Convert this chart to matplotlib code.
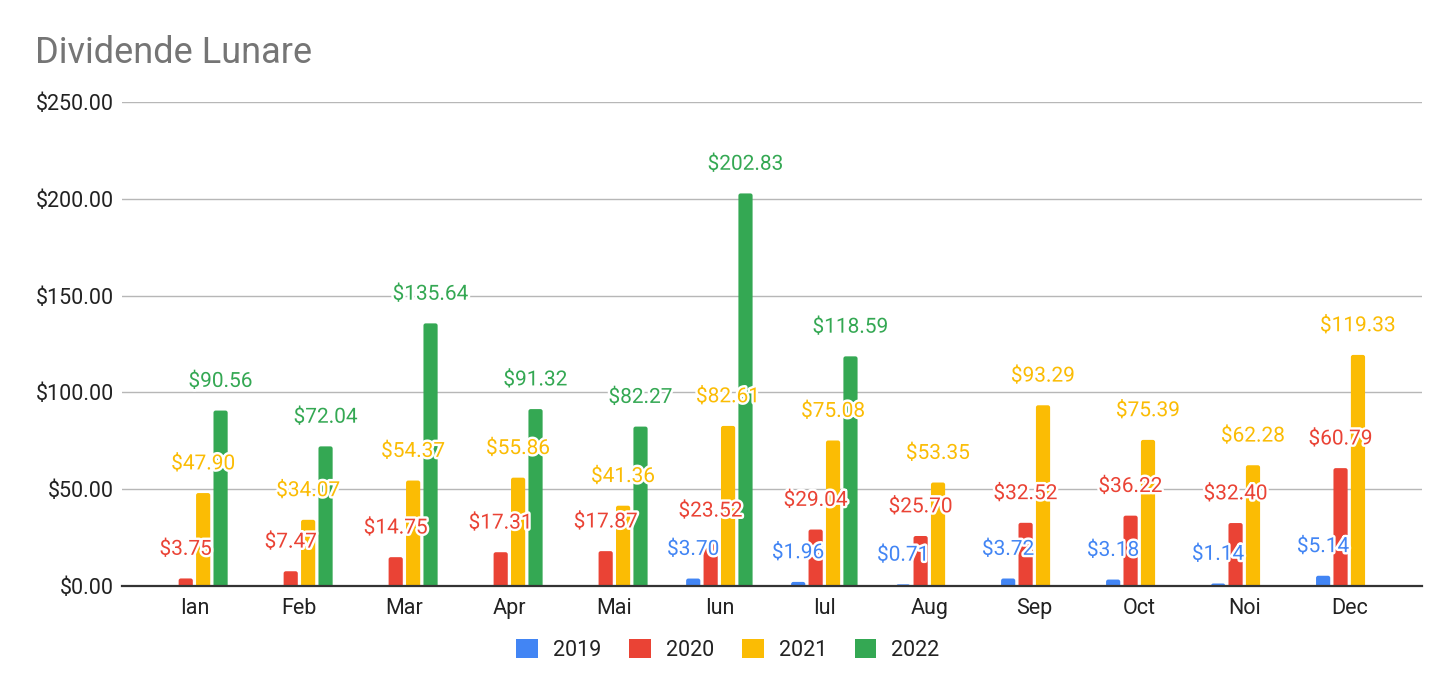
import matplotlib
matplotlib.use('Agg')
import matplotlib.pyplot as plt
import matplotlib.patheffects as pe
from matplotlib.patches import FancyBboxPatch, Patch
import numpy as np

months = ['Ian', 'Feb', 'Mar', 'Apr', 'Mai', 'Iun', 'Iul', 'Aug', 'Sep', 'Oct', 'Noi', 'Dec']
years = ['2019', '2020', '2021', '2022']
v2019 = [None, None, None, None, None, 3.70, 1.96, 0.71, 3.72, 3.18, 1.14, 5.14]
v2020 = [3.75, 7.47, 14.75, 17.31, 17.87, 23.52, 29.04, 25.70, 32.52, 36.22, 32.40, 60.79]
v2021 = [47.90, 34.07, 54.37, 55.86, 41.36, 82.61, 75.08, 53.35, 93.29, 75.39, 62.28, 119.33]
v2022 = [90.56, 72.04, 135.64, 91.32, 82.27, 202.83, 118.59, None, None, None, None, None]
series = [v2019, v2020, v2021, v2022]
colors = ['#4285F4', '#EA4335', '#FBBC04', '#34A853']
yticks = [0, 50, 100, 150, 200, 250]

plt.rcParams['font.family'] = ['Roboto', 'DejaVu Sans']

W, H = 1456, 696
fig = plt.figure(figsize=(W / 100, H / 100), dpi=100)
fig.patch.set_facecolor('white')
ax = fig.add_axes([122 / W, 110.3 / H, (1421.7 - 122) / W, (585.7 - 102.2) / H])

x = np.arange(len(months))
step = 0.166
width = 0.135
ax.set_xlim(-0.69, 11.69)
ax.set_ylim(0, 250)

# pixel scales for rounded corners
px_x = (ax.get_xlim()[1] - ax.get_xlim()[0]) / (1421.7 - 122)
px_y = 250 / (585.7 - 102.2)
r = 2.2 * px_x
aspect = px_y / px_x

for j, (vals, c) in enumerate(zip(series, colors)):
    arr = np.array([np.nan if v is None else v for v in vals], dtype=float)
    bars = ax.bar(x + (j - 1.5) * step, arr, width, color=c, zorder=3)
    for rect, v in zip(bars, arr):
        if np.isnan(v):
            continue
        rect.set_visible(False)
        bx, bw, bh = rect.get_x(), rect.get_width(), rect.get_height()
        patch = FancyBboxPatch((bx, -3), bw, bh + 3,
                               boxstyle=f"round,pad=0,rounding_size={r}",
                               mutation_aspect=aspect, fc=c, ec='none', zorder=3)
        ax.add_patch(patch)
        ax.annotate(f'${v:.2f}', (bx + bw / 2, v), xytext=(0, 21),
                    textcoords='offset points', ha='center', va='center',
                    color=c, fontsize=15, zorder=6, annotation_clip=False,
                    path_effects=[pe.withStroke(linewidth=3.5, foreground='white')])

ax.set_yticks(yticks)
ax.set_yticklabels([f'${t:.2f}' for t in yticks])
ax.set_xticks(x)
ax.set_xticklabels(months)
ax.tick_params(axis='both', length=0, labelsize=15.5, colors='#222222')
ax.tick_params(axis='y', pad=5.5)
ax.tick_params(axis='x', pad=9)
ax.yaxis.grid(True, color='#b7b7b7', lw=1)
ax.set_axisbelow(True)
for s in ['left', 'right', 'top']:
    ax.spines[s].set_visible(False)
ax.spines['bottom'].set_color('#333333')
ax.spines['bottom'].set_linewidth(1.6)
ax.spines['bottom'].set_zorder(5)

fig.text(35 / W, 1 - 63 / H, 'Dividende Lunare', fontsize=26, color='#757575',
         ha='left', va='baseline')

handles = [Patch(facecolor=c, edgecolor='none') for c in colors]
fig.legend(handles, years, loc='center', bbox_to_anchor=(0.5, 1 - 650 / H), ncol=4,
           frameon=False, fontsize=15.5, handlelength=1.0, handleheight=1.0,
           handletextpad=0.7, columnspacing=1.3, labelcolor='#222222')

fig.savefig('out.png', dpi=100, facecolor='white')
